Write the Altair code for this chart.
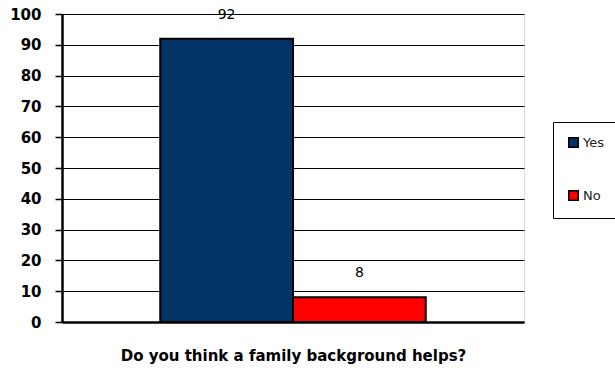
import altair as alt
import pandas as pd

answers = ["Yes", "No"]
percent = [92, 8]
colors = ["#003366", "#FF0000"]
y_ticks = [0, 10, 20, 30, 40, 50, 60, 70, 80, 90, 100]

df = pd.DataFrame({"answer": answers, "value": percent})

x_enc = alt.X(
    "answer:N",
    sort=answers,
    scale=alt.Scale(domain=answers, paddingInner=0, paddingOuter=0.74),
    axis=alt.Axis(
        title="Do you think a family background helps?",
        titleFont="DejaVu Sans", titleFontSize=15, titleFontWeight="bold",
        titleColor="#000000", titlePadding=26,
        labels=False, ticks=False, domainColor="#000000", domainWidth=2.5,
    ),
)
y_enc = alt.Y(
    "value:Q",
    scale=alt.Scale(domain=[0, 100], nice=False),
    axis=alt.Axis(
        title=None, values=y_ticks, labelFont="DejaVu Sans", labelFontSize=15,
        labelFontWeight="bold", labelColor="#000000", labelPadding=14,
        labelOverlap=False,
        tickSize=7, tickColor="#000000", tickWidth=1.5,
        domainColor="#000000", domainWidth=2.5,
        grid=True, gridColor="#000000", gridWidth=1,
    ),
)

bars = alt.Chart(df).mark_bar(stroke="#000000", strokeWidth=2).encode(
    x=x_enc,
    y=y_enc,
    color=alt.Color(
        "answer:N",
        scale=alt.Scale(domain=answers, range=colors),
        legend=alt.Legend(
            title=None, orient="none", legendX=491, legendY=108,
            strokeColor="#000000", padding=14,
            rowPadding=36, symbolType="square", symbolSize=90,
            symbolStrokeColor="#000000", symbolStrokeWidth=1.5,
            labelFont="DejaVu Sans", labelFontSize=13, labelColor="#222222",
            labelOffset=3, fillColor="#ffffff",
        ),
    ),
)

labels = alt.Chart(df).mark_text(
    dy=-24, font="DejaVu Sans", fontSize=14, color="#000000"
).encode(
    x=x_enc,
    y=y_enc,
    text="value:Q",
)

chart = (
    alt.layer(bars, labels)
    .properties(
        width=462, height=308,
        autosize=alt.AutoSizeParams(type="none"),
        padding={"left": 62, "top": 14, "right": 91, "bottom": 49},
    )
    .configure_view(stroke="#888888", strokeWidth=2)
    .configure_legend(strokeWidth=2)
    .configure(background="#ffffff")
)

chart.save("out.html", embed_options={"renderer": "svg", "actions": False})
